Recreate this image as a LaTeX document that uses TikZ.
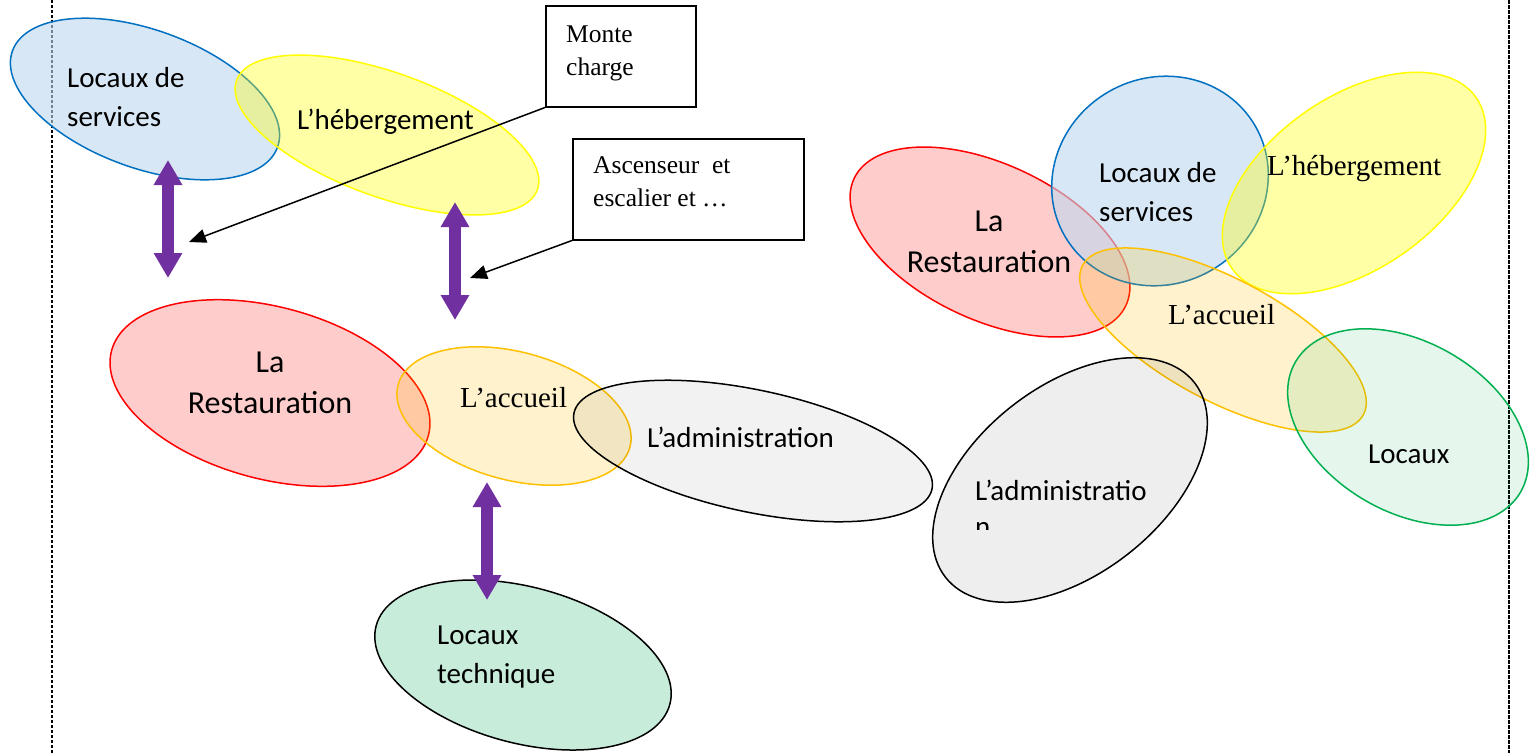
\documentclass[tikz,border=0pt]{standalone}
\usepackage{fontspec}
\setmainfont{Liberation Serif}
\newfontfamily\calibri{Carlito}
\usetikzlibrary{arrows.meta}
\definecolor{cblue}{RGB}{0,112,192}
\definecolor{cbluef}{RGB}{189,215,238}
\definecolor{cyel}{RGB}{255,255,0}
\definecolor{cred}{RGB}{255,0,0}
\definecolor{corange}{RGB}{255,192,0}
\definecolor{cgreen}{RGB}{0,176,80}
\definecolor{ctech}{RGB}{200,236,218}
\definecolor{cpurple}{RGB}{112,48,160}
\tikzset{
  ell/.style={line width=1.5pt},
  sans/.style={font=\calibri\fontsize{29}{39}\selectfont, inner sep=0pt, align=left},
  sansbig/.style={font=\calibri\fontsize{32}{41}\selectfont, inner sep=0pt, align=center},
  serif/.style={font=\fontsize{29}{35}\selectfont, inner sep=0pt},
  boxtxt/.style={font=\fontsize{25.5}{32.5}\selectfont, inner sep=0pt, align=left},
  callbox/.style={draw, line width=1.5pt, inner sep=0pt, anchor=north west},
  dblarrow/.style={draw=cpurple, line width=12pt,
     {Triangle[width=27pt,length=25pt]}-{Triangle[width=27pt,length=25pt]}},
  callarrow/.style={draw, line width=1.5pt, -{Triangle[width=14pt,length=17pt]}},
}
\begin{document}
\begin{tikzpicture}[x=1pt,y=-1pt]
\useasboundingbox (0,0) rectangle (1539,753);
% frame lines
\coordinate (lt) at (52,0); \coordinate (lb) at (52,753);
\coordinate (rt) at (1509,0); \coordinate (rb) at (1509,753);
\draw[line width=1.5pt, dash pattern=on 3pt off 2pt] (lt) -- (lb);
\draw[line width=2.5pt, dash pattern=on 4pt off 1pt] (rt) -- (rb);

% ----- left group -----
\draw[ell, draw=cblue, fill=cbluef, fill opacity=0.6, rotate around={-20:(145,99)}] (145,99) ellipse [x radius=141pt, y radius=69pt];
\draw[ell, draw=cyel, fill=cyel, fill opacity=0.35, rotate around={-20:(387,135)}] (387,135) ellipse [x radius=160pt, y radius=62pt];
\draw[ell, draw=cred, fill=cred, fill opacity=0.2, rotate around={-15:(270,393)}] (270,393) ellipse [x radius=164pt, y radius=86pt];
\draw[ell, draw=corange, fill=corange, fill opacity=0.2, rotate around={-15:(514,416)}] (514,416) ellipse [x radius=120pt, y radius=64pt];
\draw[ell, draw=black, fill=black, fill opacity=0.05, rotate around={-12:(753,451)}] (753,451) ellipse [x radius=183pt, y radius=61pt];
\draw[ell, draw=black, fill=ctech, rotate around={-15:(523,665)}] (523,665) ellipse [x radius=152pt, y radius=78pt];

\node[sans, anchor=base west] (ls1) at (67,126) {Locaux de\\services};
\node[sans, anchor=base west] (lh1) at (297,129) {L’hébergement};
\node[sansbig, anchor=base] (lr1) at (270,413) {La\\Restauration};
\node[serif, anchor=base west] (la1) at (460,407) {L’accueil};
\node[sans, anchor=base west] (lad1) at (647,447) {L’administration};
\node[sans, anchor=base west] (lt1) at (437,683) {Locaux\\technique};

% purple double arrows
\coordinate (p1a) at (168,160); \coordinate (p1b) at (168,278);
\coordinate (p2a) at (455,202); \coordinate (p2b) at (455,320);
\coordinate (p3a) at (487,482); \coordinate (p3b) at (487,600);
\draw[dblarrow] (p1a) -- (p1b);
\draw[dblarrow] (p2a) -- (p2b);
\draw[dblarrow] (p3a) -- (p3b);

% callout boxes
\node[callbox, minimum width=150pt, minimum height=101pt] (mc) at (545,5) {};
\node[boxtxt, anchor=base west] (mct) at (566,75) {Monte\\charge};
\node[callbox, minimum width=231pt, minimum height=101pt] (asc) at (572,138) {};
\node[boxtxt, anchor=base west] (asct) at (593,206) {Ascenseur\ \ et\\escalier et …};
\coordinate (mcend) at (189,242);
\coordinate (ascend) at (470,278);
\draw[callarrow] (mc.south west) -- (mcend);
\draw[callarrow] (asc.south west) -- (ascend);

% ----- right group -----
\draw[ell, draw=cred, fill=cred, fill opacity=0.2, rotate around={-25:(990,242)}] (990,242) ellipse [x radius=150pt, y radius=78pt];
\draw[ell, draw=cblue, fill=cbluef, fill opacity=0.6, rotate around={-60:(1160,181)}] (1160,181) ellipse [x radius=103pt, y radius=110pt];
\draw[ell, draw=cyel, fill=cyel, fill opacity=0.35, rotate around={35:(1354,183)}] (1354,183) ellipse [x radius=149pt, y radius=86pt];
\draw[ell, draw=corange, fill=corange, fill opacity=0.2, rotate around={-28:(1223,340)}] (1223,340) ellipse [x radius=159pt, y radius=61pt];
\draw[ell, draw=black, fill=black, fill opacity=0.067, rotate around={38:(1070,480)}] (1070,480) ellipse [x radius=158pt, y radius=94pt];
\draw[ell, draw=cgreen, fill=cgreen, fill opacity=0.1, rotate around={-30:(1408,427)}] (1408,427) ellipse [x radius=130pt, y radius=85pt];

\node[sansbig, anchor=base] (rr1) at (989,272) {La\\Restauration};
\node[sans, anchor=base west] (rs1) at (1099,221) {Locaux de\\services};
\node[serif, anchor=base west] (rh1) at (1267,175) {L’hébergement};
\node[serif, anchor=base west] (ra1) at (1168,324) {L’accueil};
\node[sans, anchor=base west] (rad1) at (975,500) {L’administratio};
\begin{scope}
\clip (960,510) rectangle (1100,529);
\node[sans, anchor=base west] (rad2) at (975,536) {n};
\end{scope}
\node[sans, anchor=base west] (rl1) at (1368,463) {Locaux};
\end{tikzpicture}
\end{document}
